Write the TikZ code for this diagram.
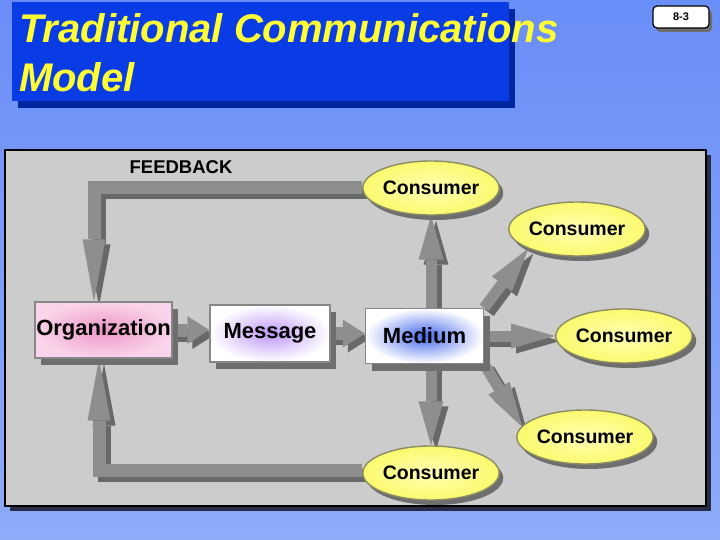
\documentclass[tikz,border=0pt]{standalone}
\usepackage{fontspec}
\setmainfont{Liberation Sans}
\usetikzlibrary{arrows.meta,positioning,shapes.geometric,shadows}
\definecolor{sky}{RGB}{106,142,248}
\definecolor{skylow}{RGB}{142,171,248}
\definecolor{titleblue}{RGB}{10,60,230}
\definecolor{titleshade}{RGB}{0,38,160}
\definecolor{titleink}{RGB}{255,255,51}
\definecolor{panel}{RGB}{204,204,204}
\definecolor{panelshade}{RGB}{40,44,70}
\definecolor{barlight}{RGB}{142,142,142}
\definecolor{bardark}{RGB}{104,104,104}
\definecolor{boxshade}{RGB}{110,110,110}
\definecolor{boxedge}{RGB}{135,135,135}
\definecolor{consIn}{RGB}{255,255,180}
\definecolor{consOut}{RGB}{250,250,110}
\definecolor{consEdge}{RGB}{140,140,100}
\definecolor{orgIn}{RGB}{238,150,200}
\definecolor{orgOut}{RGB}{250,212,234}
\definecolor{msgIn}{RGB}{190,150,245}
\definecolor{medIn}{RGB}{70,105,235}
\pgfdeclarelayer{bg}
\pgfdeclarelayer{conn}
\pgfsetlayers{bg,conn,main}
\newcommand{\fat}[2]{%
  \draw[#1,bardark,transform canvas={shift={(5pt,-5pt)}}] #2;
  \draw[#1,barlight] #2;}

\begin{document}
\begin{tikzpicture}[x=1pt,y=-1pt,
  box/.style={rectangle,draw=boxedge,line width=1.4pt,inner sep=0pt,
    font=\fontsize{22}{25}\selectfont\bfseries,
    drop shadow={shadow xshift=6pt,shadow yshift=-7pt,fill=boxshade,opacity=1}},
  consumer/.style={ellipse,draw=consEdge,line width=1.4pt,inner sep=0pt,
    inner color=consIn,outer color=consOut,minimum width=112pt,minimum height=54pt,
    font=\fontsize{19.5}{22}\selectfont\bfseries,
    drop shadow={shadow xshift=4pt,shadow yshift=-5pt,fill=boxshade,opacity=1}},
  fb/.style={line width=13pt,line join=miter,-{Triangle[length=62pt,width=23pt,line width=0pt]}},
  small/.style={line width=13pt,-{Triangle[length=22pt,width=28pt,line width=0pt]}},
  ray/.style={line width=11pt,-{Triangle[length=44pt,width=25pt,line width=0pt]}}]
\begin{pgfonlayer}{bg}
\fill[top color=sky,bottom color=skylow] (0,0) rectangle (720,540);
\fill[titleshade] (18,9) rectangle (515,108);
\fill[titleblue] (12,2) rectangle (509,101);
\fill[panelshade] (10,155) rectangle (711,511);
\filldraw[fill=panel,draw=black,line width=1.5pt] (5,150) rectangle (706,506);
\end{pgfonlayer}
\node[anchor=base west,inner sep=0pt,text=titleink,font=\fontsize{40}{46}\selectfont\bfseries\itshape] (title1) at (19,43) {Traditional Communications};
\node[anchor=base west,inner sep=0pt,text=titleink,font=\fontsize{40}{46}\selectfont\bfseries\itshape] (title2) at (19,92) {Model};
\node[draw,fill=white,rounded corners=4pt,line width=1.2pt,minimum width=56pt,minimum height=22pt,
  font=\fontsize{11}{13}\selectfont\bfseries,
  drop shadow={shadow xshift=3pt,shadow yshift=-4pt,fill=boxshade,opacity=1}] (page) at (681,17) {8-3};
\node[font=\fontsize{18.5}{22}\selectfont\bfseries] (fbk) at (181,167) {FEEDBACK};
\node[box,minimum width=137pt,minimum height=56pt,inner color=orgIn,outer color=orgOut] (org) at (103.5,330) {Organization};
\node[box,minimum width=120pt,minimum height=57pt,inner color=msgIn,outer color=white] (msg) at (270,333.5) {Message};
\node[box,minimum width=118pt,minimum height=55pt,inner color=medIn,outer color=white] (med) at (424.5,336) {Medium};
\foreach \n/\p in {cT/{431,188},cUR/{577,229},cR/{624,336},cLR/{585,437},cB/{431,473}}
  \node[consumer] (\n) at (\p) {Consumer};
\begin{pgfonlayer}{conn}
\coordinate (fbtop) at (94,188);
\coordinate (fbbot) at (99,470);
\fat{fb}{(cT.west) -- (fbtop) -- (fbtop |- org.north)}
\fat{fb}{(cB.west |- fbbot) -- (fbbot) -- (fbbot |- org.south)}
\fat{small}{(org.east) -- (msg.west |- org.east)}
\fat{small}{(msg.east) -- (med.west |- msg.east)}
\fat{ray}{(cT.south |- med.north) -- (cT.south)}
\fat{ray}{(med.north east) -- (cUR.south west)}
\fat{ray}{(med.east) -- (cR.west)}
\fat{ray}{(med.south east) -- (cLR.170)}
\fat{ray}{(cB.north |- med.south) -- (cB.north)}
\end{pgfonlayer}
\end{tikzpicture}
\end{document}
